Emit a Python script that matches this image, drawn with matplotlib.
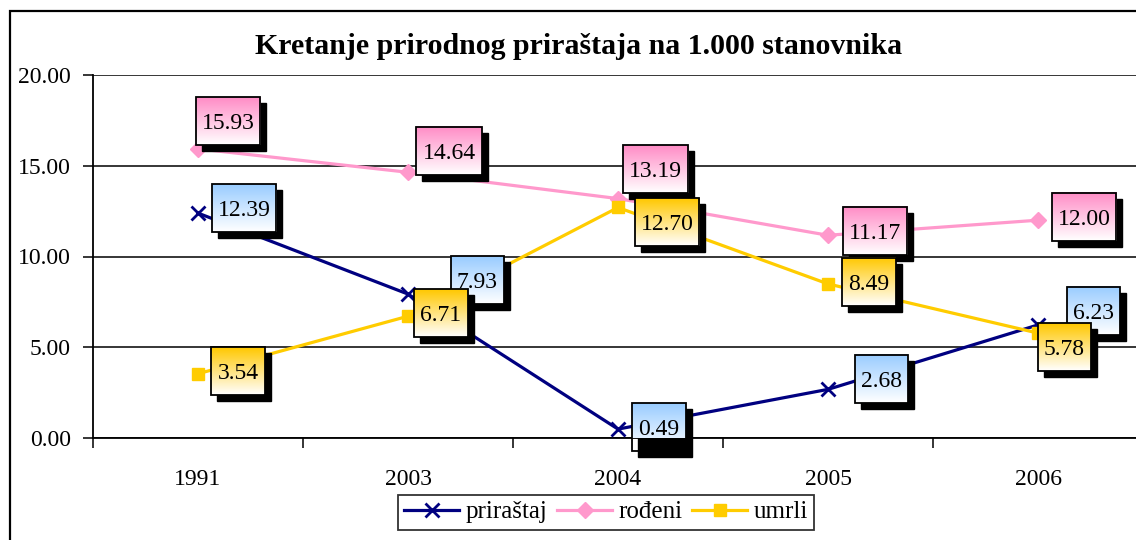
import numpy as np
import matplotlib.pyplot as plt
from matplotlib.patches import Rectangle
from matplotlib.colors import to_rgb

plt.rcParams['font.family'] = ['Liberation Serif', 'DejaVu Serif']

years = ['1991', '2003', '2004', '2005', '2006']
prirastaj = [12.39, 7.93, 0.49, 2.68, 6.23]
rodjeni = [15.93, 14.64, 13.19, 11.17, 12.00]
umrli = [3.54, 6.71, 12.70, 8.49, 5.78]

# label box offsets from the point, in pixels (right, up) - placed by hand like in excel
off_prirastaj = [(46, 5), (69, 14), (41, 2), (53, 10), (55, 14)]
off_rodjeni = [(30, 28), (41, 21), (37, 30), (47, 4), (46, 3)]
off_umrli = [(40, 3), (33, 3), (49, -15), (41, 2), (26, -14)]

series = [
    ('priraštaj', prirastaj, '#000080', 'x', '#99CCFF', off_prirastaj),
    ('rođeni', rodjeni, '#FF99CC', 'D', '#FF8CC6', off_rodjeni),
    ('umrli', umrli, '#FFCC00', 's', '#FFC800', off_umrli),
]

W, H = 1136, 540
fig = plt.figure(figsize=(W / 100, H / 100), dpi=100)
ax = fig.add_axes([93 / W, 102 / H, 1050 / W, 363 / H])

x = np.arange(len(years))
for name, vals, col, mk, _, _ in series:
    ms = 10 if mk == 'x' else (8 if mk == 'D' else 9)
    ax.plot(x, vals, color=col, lw=2.3, marker=mk, ms=ms, mew=2 if mk == 'x' else 1,
            label=name, zorder=3, clip_on=False)

ax.set_xlim(-0.5, len(years) - 0.5)
ax.set_ylim(0, 20)
ax.set_yticks([0, 5, 10, 15, 20])
ax.set_yticklabels(['%.2f' % v for v in [0, 5, 10, 15, 20]], fontsize=17)
ax.yaxis.grid(True, color='black', lw=1.1)
ax.set_axisbelow(True)
ax.set_xticks(np.arange(-0.5, len(years), 1.0))
ax.set_xticklabels([])
ax.set_xticks(x, minor=True)
ax.set_xticklabels(years, minor=True, fontsize=17)
ax.tick_params(axis='x', which='major', length=7, width=1.1, direction='out')
ax.tick_params(axis='x', which='minor', length=0, pad=22)
ax.tick_params(axis='y', length=7, width=1.1, pad=9)
for s in ['top', 'right']:
    ax.spines[s].set_visible(False)
ax.spines['left'].set_linewidth(1.3)
ax.spines['bottom'].set_linewidth(1.3)

# data labels: text first, boxes after we know the text size
texts = []
for si, (name, vals, col, mk, fillc, offs) in enumerate(series):
    for i, v in enumerate(vals):
        px, py = ax.transData.transform((i, v))
        cx, cy = px + offs[i][0], py + offs[i][1]
        t = ax.text(cx, cy, '%.2f' % v, transform=None, ha='center',
                    va='center_baseline', fontsize=17, zorder=14 + 4 * si)
        texts.append((t, cx, cy, fillc, si))

fig.canvas.draw()
inv = ax.transData.inverted()
for t, cx, cy, fillc, si in texts:
    bb = t.get_window_extent()
    bw = bb.width + 12
    bh = 48
    x0, y0 = inv.transform((cx - bw / 2, cy - bh / 2))
    x1, y1 = inv.transform((cx + bw / 2, cy + bh / 2))
    sx0, sy0 = inv.transform((cx - bw / 2 + 6, cy - bh / 2 - 6))
    sx1, sy1 = inv.transform((cx + bw / 2 + 6, cy + bh / 2 - 6))
    ax.add_patch(Rectangle((sx0, sy0), sx1 - sx0, sy1 - sy0, color='black',
                           zorder=11 + 4 * si, clip_on=False))
    top = np.array(to_rgb(fillc))
    k = np.linspace(0, 1, 64)[:, None]
    grad = (top * (1 - k) + np.ones(3) * k)[:, None, :]
    ax.imshow(grad, extent=[x0, x1, y0, y1], aspect='auto', origin='upper',
              zorder=12 + 4 * si, interpolation='bilinear')
    ax.add_patch(Rectangle((x0, y0), x1 - x0, y1 - y0, fill=False, ec='black',
                           lw=1.3, zorder=13 + 4 * si, clip_on=False))

ax.set_xlim(-0.5, len(years) - 0.5)
ax.set_ylim(0, 20)

fig.text(579 / W, 1 - 47 / H, 'Kretanje prirodnog priraštaja na 1.000 stanovnika',
         ha='center', va='center', fontsize=21.5, fontweight='bold')

leg = fig.legend(loc='center', bbox_to_anchor=(606 / W, 1 - 512 / H), ncol=3,
                 fontsize=18, frameon=True, fancybox=False, edgecolor='black',
                 handlelength=2.2, columnspacing=0.4, handletextpad=0.25,
                 borderpad=0.25, borderaxespad=0)
leg.get_frame().set_linewidth(1.3)

fig.add_artist(Rectangle((10 / W, -0.05), 1.2, (1 - 10.5 / H) + 0.05, fill=False,
                         lw=1.6, ec='black', transform=fig.transFigure))

fig.savefig('out.png', dpi=100)
